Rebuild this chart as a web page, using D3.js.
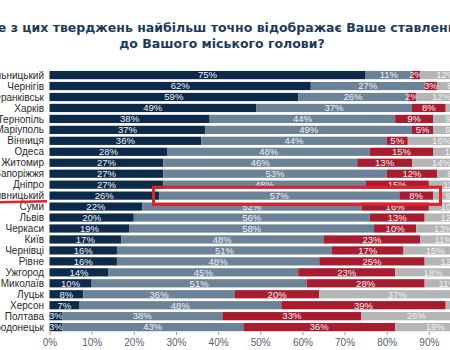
<!DOCTYPE html>
<html>
<head>
<meta charset="utf-8">
<script src="https://cdn.jsdelivr.net/npm/d3@7"></script>
<style>
  body { margin: 0; background: #fff; }
  svg { display: block; }
</style>
</head>
<body>
<div id="chart"></div>
<script>
// data
const cities = ['Хмельницький', 'Чернігів', 'Івано-Франківськ', 'Харків', 'Тернопіль', 'Маріуполь', 'Вінниця', 'Одеса',
  'Житомир', 'Запоріжжя', 'Дніпро', 'Кропивницький', 'Суми', 'Львів', 'Черкаси', 'Київ', 'Чернівці', 'Рівне',
  'Ужгород', 'Миколаїв', 'Луцьк', 'Херсон', 'Полтава', 'Сєвєродонецьк']
const seriesA = [75, 62, 59, 49, 38, 37, 36, 28, 27, 27, 27, 26, 22, 20, 19, 17, 16, 16, 14, 10, 8, 7, 3, 3]
const seriesB = [11, 27, 26, 37, 44, 49, 44, 48, 46, 53, 48, 57, 52, 56, 58, 48, 51, 48, 45, 51, 36, 48, 38, 43]
const seriesC = [2, 3, 2, 8, 9, 5, 5, 15, 13, 12, 15, 8, 16, 13, 10, 23, 17, 25, 23, 28, 20, 39, 33, 36]
const seriesD = [12, 8, 12, 6, 9, 9, 16, 10, 14, 8, 11, 9, 10, 12, 13, 11, 15, 12, 18, 11, 37, 6, 26, 19]
const xTicks = [0, 10, 20, 30, 40, 50, 60, 70, 80, 90, 100]
const titleLines = ['Яке з цих тверджень найбільш точно відображає Ваше ставлення', 'до Вашого міського голови?']
const highlightCity = 'Кропивницький'

const colors = ['#0d2a4b', '#6c8296', '#a81c2f', '#b5b5b5']
const width = 450, height = 350

let svg = d3.select('#chart').append('svg')
  .attr('width', width)
  .attr('height', height)

// title
svg.append('g').attr('id', 'title').selectAll('text').data(titleLines).enter().append('text')
  .attr('x', 222)
  .attr('y', (d, i) => 32 + i * 16)
  .attr('text-anchor', 'middle')
  .style('font-family', 'DejaVu Sans, Verdana, sans-serif')
  .style('font-weight', 'bold')
  .style('font-size', '12.5px')
  .attr('fill', '#1c3b5a')
  .text(d => d)

// scales
let xScale = d3.scaleLinear().domain([0, 100]).range([49.5, 471])
let yScale = d3.scaleBand().domain(cities).range([69.6, 332.6]).paddingInner(0.25).paddingOuter(0.125)

// stack the four series
let rows = cities.map((c, i) => ({city: c, a: seriesA[i], b: seriesB[i], c: seriesC[i], d: seriesD[i]}))
let stacked = d3.stack().keys(['a', 'b', 'c', 'd'])(rows)

let barGroup = svg.append('g').attr('id', 'bars')
let layers = barGroup.selectAll('g').data(stacked).enter().append('g')
  .attr('fill', (d, i) => colors[i])

layers.selectAll('rect').data(d => d).enter().append('rect')
  .attr('x', d => xScale(d[0]))
  .attr('y', d => yScale(d.data.city))
  .attr('width', d => xScale(d[1]) - xScale(d[0]))
  .attr('height', yScale.bandwidth())

// value labels in the middle of each segment
layers.selectAll('text').data(d => d).enter().append('text')
  .attr('x', d => xScale((d[0] + d[1]) / 2))
  .attr('y', d => yScale(d.data.city) + yScale.bandwidth() / 2 + 3.3)
  .attr('text-anchor', 'middle')
  .style('font-family', 'Liberation Sans Narrow, Arial Narrow, sans-serif')
  .style('font-size', '9.5px')
  .attr('fill', '#eef2f6')
  .text(d => (d[1] - d[0]) + '%')

// city labels
svg.append('g').attr('id', 'ylabels').selectAll('text').data(cities).enter().append('text')
  .attr('x', 44)
  .attr('y', d => yScale(d) + yScale.bandwidth() / 2 + 3.6)
  .attr('text-anchor', 'end')
  .style('font-family', 'Liberation Sans, Arial, sans-serif')
  .style('font-size', '10px')
  .attr('fill', '#2a2a2a')
  .text(d => d)

// bottom axis
let xAxis = d3.axisBottom(xScale).tickValues(xTicks).tickSize(3).tickFormat(d => d + '%')
let axisG = svg.append('g').attr('id', 'xaxis')
  .attr('transform', 'translate(0,332)')
  .call(xAxis)
axisG.select('.domain').remove()
axisG.selectAll('.tick line').attr('stroke', '#9a9a9a')
axisG.selectAll('.tick text')
  .attr('dy', 0)
  .attr('y', 14)
  .style('font-family', 'Liberation Sans Narrow, Arial Narrow, sans-serif')
  .style('font-size', '10px')
  .attr('fill', '#55626e')

// red highlight marks round Кропивницький
let hy = yScale(highlightCity)
let marks = svg.append('g').attr('id', 'highlight')
marks.append('rect')
  .attr('x', 153.5)
  .attr('y', hy - 4.3)
  .attr('width', 287)
  .attr('height', yScale.bandwidth() + 9)
  .attr('fill', 'none')
  .attr('stroke', '#e0202a')
  .attr('stroke-width', 3)
marks.append('line')
  .attr('x1', 0).attr('y1', hy + yScale.bandwidth() + 2.5)
  .attr('x2', 47).attr('y2', hy + yScale.bandwidth() + 1.5)
  .attr('stroke', '#e0202a')
  .attr('stroke-width', 2.5)
</script>
</body>
</html>
